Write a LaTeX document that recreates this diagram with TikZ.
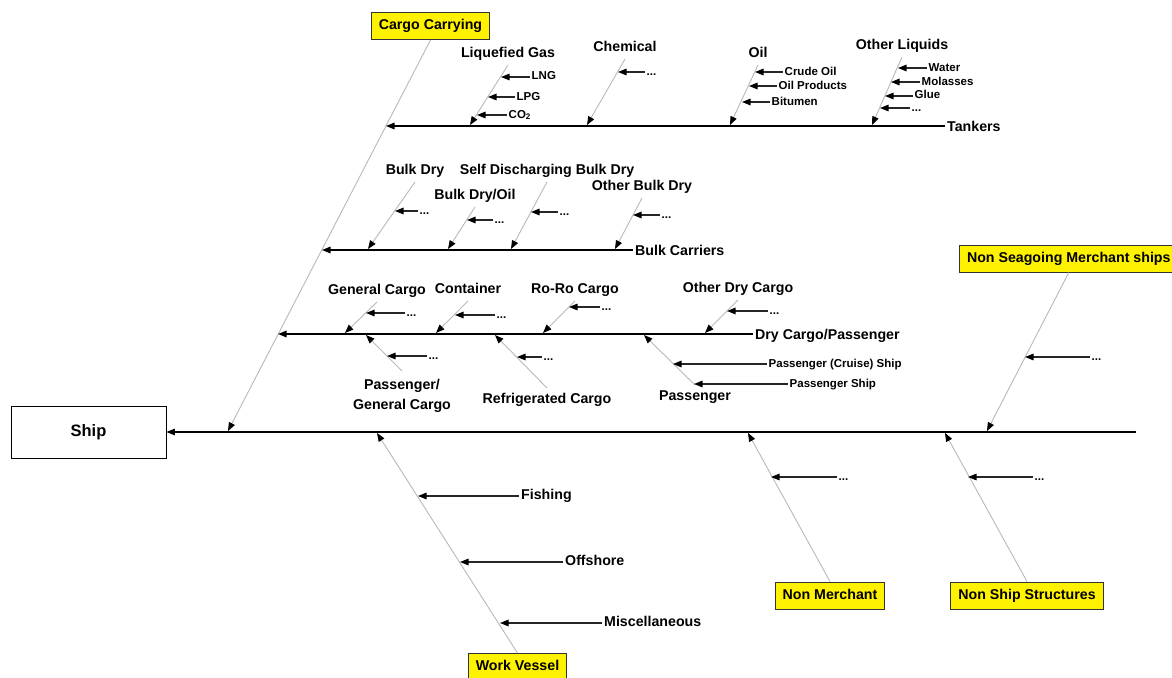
\documentclass[tikz,border=0pt]{standalone}
\usepackage{fontspec}
\setmainfont{Liberation Sans}
\usetikzlibrary{arrows.meta}

\begin{document}
\begin{tikzpicture}[x=1pt,y=-1pt,>={Triangle[length=8.5pt,width=6.5pt,color=black,fill=black]}]
	\tikzstyle{spine}=[->,line width=1.3pt]
	\tikzstyle{br}=[->,black!28,line width=0.9pt]
	\tikzstyle{sub}=[->,black!85,line width=1.3pt]
	\tikzstyle{big}=[inner xsep=2pt,inner ysep=4.5pt,text height=10.5pt,text depth=3pt,font=\fontsize{14.2}{17}\selectfont\bfseries]
	\tikzstyle{grp}=[big,text depth=0.5pt,anchor=west]
	\tikzstyle{small}=[inner xsep=1.5pt,inner ysep=1pt,text height=8.5pt,text depth=2.5pt,font=\fontsize{11.5}{13}\selectfont\bfseries]
	\tikzstyle{cat}=[big,draw=black!80,fill=yellow,line width=1pt,inner xsep=7.5pt,minimum height=27pt]
	\clip (0,0) rectangle (1172,677);
	
	% head and main spine
	\node[draw,line width=0.8pt,minimum width=155pt,minimum height=52pt,font=\fontsize{16.5}{18}\selectfont\bfseries](ship) at (88.5,432){Ship};
	\coordinate (tail) at (1136,432);
	\path[spine] (tail) edge (ship);
	
	% main categories
	\node[cat](cc) at (430.5,26){Cargo Carrying};
	\node[cat,anchor=west](nsm) at (959,258.5){Non Seagoing Merchant ships};
	\node[cat,anchor=north](wv) at (517.5,653){Work Vessel};
	\node[cat](nm) at (830,595.5){Non Merchant};
	\node[cat](nss) at (1027,595.5){Non Ship Structures};
	\coordinate (ccA) at (228,431);
	\coordinate (nsmA) at (987,431);
	\coordinate (wvA) at (377,433);
	\coordinate (nmA) at (748,433);
	\coordinate (nssA) at (945,433);
	\path[br] (cc.south) edge (ccA)
	(nsm.south) edge (nsmA)
	(wv.north) edge (wvA)
	(nm.north) edge (nmA)
	(nss.north) edge (nssA);
	
	% group spines
	\node[grp](tk) at (945,126){Tankers};
	\node[grp](bc) at (633,250){Bulk Carriers};
	\node[grp](dc) at (753,334){Dry Cargo/Passenger};
	\coordinate (tkA) at (386,126);
	\coordinate (bcA) at (322,250);
	\coordinate (dcA) at (278,334);
	\path[spine] (tk) edge (tkA)
	(bc) edge (bcA)
	(dc) edge (dcA);
	
	% tankers
	\node[big,anchor=south](lg) at (508,65){Liquefied Gas};
	\node[big,anchor=south](ch) at (625,59){Chemical};
	\node[big,anchor=south](oil) at (758,65){Oil};
	\node[big,anchor=south](ol) at (902,57){Other Liquids};
	\coordinate (lgA) at (470,125);
	\coordinate (chA) at (587,125);
	\coordinate (oilA) at (730,125);
	\coordinate (olA) at (872,125);
	\path[br] (lg.south) edge (lgA)
	(ch.south) edge (chA)
	(oil.south) edge (oilA)
	(ol.south) edge (olA);
	
	% bulk carriers
	\node[big,anchor=south](bd) at (415,182){Bulk Dry};
	\node[big,anchor=south](bdo) at (475,207){Bulk Dry/Oil};
	\node[big,anchor=south](sd) at (547,182){Self Discharging Bulk Dry};
	\node[big,anchor=south](ob) at (642,198){Other Bulk Dry};
	\coordinate (bdA) at (368,249);
	\coordinate (bdoA) at (448,249);
	\coordinate (sdA) at (511,249);
	\coordinate (obA) at (615,249);
	\path[br] (bd.south) edge (bdA)
	(bdo.south) edge (bdoA)
	(sd.south) edge (sdA)
	(ob.south) edge (obA);
	
	% dry cargo / passenger
	\node[big,anchor=south](gc) at (377,302){General Cargo};
	\node[big,anchor=south](co) at (468,301){Container};
	\node[big,anchor=south](rr) at (575,301){Ro-Ro Cargo};
	\node[big,anchor=south](od) at (738,300){Other Dry Cargo};
	\node[anchor=north,align=center,inner xsep=4pt,inner ysep=8pt,font=\fontsize{14.2}{20}\selectfont\bfseries](pg) at (402,371){Passenger/\\General Cargo};
	\node[big,anchor=north](rc) at (547,388){Refrigerated Cargo};
	\node[big,anchor=north](pa) at (695,385){Passenger};
	\coordinate (gcA) at (345,333);
	\coordinate (coA) at (436,333);
	\coordinate (rrA) at (543,333);
	\coordinate (odA) at (705,333);
	\coordinate (pgA) at (366,335);
	\coordinate (rcA) at (495,335);
	\coordinate (paA) at (644,335);
	\path[br] (gc.south) edge (gcA)
	(co.south) edge (coA)
	(rr.south) edge (rrA)
	(od.south) edge (odA)
	(pg.north) edge (pgA)
	(rc.north) edge (rcA)
	(pa.north) edge (paA);
	
	% leaves
	\foreach \s/\tx/\y/\hx/\t [count=\k] in {
		small/530/77/501/LNG, small/515/97/488/LPG, small/507/115/477/CO\textsubscript{2},
		small/645/72/618/{...},
		small/783/72/755/Crude Oil, small/777/86/749/Oil Products, small/770/102/742/Bitumen,
		small/927/68/898/Water, small/920/82/891/Molasses, small/913/96/885/Glue, small/910/108/880/{...},
		small/418/211/395/{...}, small/493/220/467/{...}, small/558/212/531/{...}, small/660/215/633/{...},
		small/405/313/366/{...}, small/495/315/455/{...}, small/600/307/569/{...}, small/768/311/727/{...},
		small/427/356/387/{...}, small/542/357/517/{...},
		small/767/364/673/Passenger (Cruise) Ship, small/788/384/694/Passenger Ship,
		small/1090/357/1025/{...},
		big/519/496/418/Fishing, big/563/562/460/Offshore, big/602/623/500/Miscellaneous,
		small/837/477/771/{...}, small/1033/477/968/{...}}{
		\node[\s,anchor=west](l\k) at (\tx,\y){\t};
		\coordinate (lA\k) at (\hx,\y);
		\path[sub] (l\k) edge (lA\k);
	};
\end{tikzpicture}
\end{document}
